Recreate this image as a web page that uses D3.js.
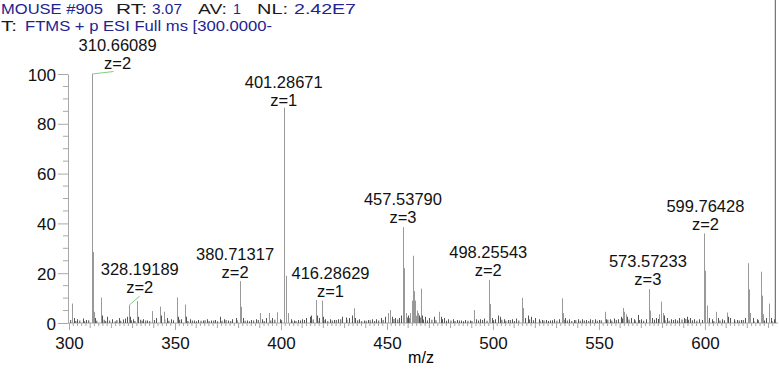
<!DOCTYPE html>
<html>
<head>
<meta charset="utf-8">
<script src="https://cdn.jsdelivr.net/npm/d3@7"></script>
<style>
  body { margin: 0; background: #fff; }
  svg { font-family: "Liberation Sans", Arial, sans-serif; }
  .peak { stroke-width: 1; }
  .noise { stroke: #555; stroke-width: 1; }
  .axis path, .axis line { stroke: #a8a8a8; }
  .axis text { fill: #111; font-size: 17px; }
</style>
</head>
<body>
<svg id="chart" width="780" height="370"></svg>
<script>
// header lines
const header1 = [["MOUSE #905", "v"], ["RT:", "k"], ["3.07", "v"], ["AV:", "k"], ["1", "v"], ["NL:", "k"], ["2.42E7", "v"]]
const header2 = [["T:", "k"], ["FTMS + p ESI Full ms [300.0000-", "v"]]

// centroid peaks: m/z and relative abundance
const peakMz = [301.3, 302.5, 304, 306.5, 308.2, 310.66, 311.16, 311.6, 312.2, 314.9, 315.4, 318, 320.5, 323.5, 326.5, 327.3,
  328.19, 328.7, 330, 332.2, 332.7, 335, 337, 339.2, 341, 342.9, 343.4, 344.6, 346, 348, 350.9, 351.4, 353, 354.7, 355.2,
  357, 359, 361, 363, 365, 367, 369, 371.2, 373, 375, 377, 378.8, 380.71, 381.2, 382.3, 384, 386, 388, 390, 391, 393,
  394.2, 396, 398.2, 399.5, 401.29, 402.29, 403.3, 404.5, 406, 408, 410, 412, 413.5, 414.3, 416.29, 416.8, 418, 419.2,
  419.7, 421, 423, 425, 427, 429, 430.5, 432, 433.5, 434.4, 435, 437, 439, 441, 443, 445, 447, 449, 450.5, 451.4, 452.5,
  454, 455.5, 456.5, 457.54, 457.87, 458.2, 459, 460, 461, 461.7, 462.1, 462.4, 462.7, 463, 463.4, 464, 464.7, 465.3,
  466, 466.5, 468, 470, 472, 474.7, 475.5, 477, 479, 481, 483, 485, 487, 489, 491.2, 492, 494, 496, 498.26, 498.76,
  499.5, 501, 502.5, 503.5, 505, 507, 509, 511, 513.5, 514, 515, 516.5, 518, 520, 521.5, 523, 525, 527, 529, 531, 532.4,
  532.9, 534, 536, 538, 540, 542, 544, 546, 548, 550, 552.8, 553.5, 555, 557, 559, 560.5, 561.5, 562, 562.6, 563.3, 565,
  566.5, 568.5, 570, 572, 573.57, 574.07, 575, 577, 578.5, 579.1, 579.5, 580, 580.5, 582, 584, 586, 588, 590, 591.5, 593,
  595, 597, 598.5, 599.76, 600.26, 600.76, 602, 603.5, 605, 606, 608, 610.2, 611, 612, 613.5, 615, 617, 619, 620.4,
  620.9, 621.4, 622.5, 624.5, 626.5, 627, 627.5, 629, 630, 631, 632.5]
const peakInt = [7.8, 2, 1.5, 1.8, 1.2, 100, 28.5, 4.5, 2, 10.2, 3, 2.5, 1.5, 2, 1.8, 2.5,
  7.2, 2.5, 1.5, 8.8, 2.5, 1.5, 1, 4.8, 2, 6.6, 3, 4.5, 2, 1.5, 10.3, 2.5, 1.5, 7.4, 2.5,
  1.5, 1, 1.2, 1, 1.5, 1, 1.2, 2.5, 1.5, 1, 1.5, 2, 16.8, 6.5, 2, 1, 1.2, 1.5, 4, 1.5, 2,
  4, 2, 4.3, 1.5, 86.5, 19, 4, 1.5, 1, 1.2, 1.5, 2, 2.5, 3, 9.2, 3, 2, 9,
  2.5, 1.5, 1.5, 1.2, 1.5, 2.5, 2.2, 2, 3, 5.9, 2, 1.5, 1, 1.2, 1.5, 1.5, 2, 2.5, 4, 5.2, 2.5,
  2, 2, 3, 38.5, 22, 8, 4, 3, 4, 9, 27, 17, 12.8, 9, 6, 5, 4, 3,
  13.8, 3, 2.5, 2, 2.5, 4.5, 2.5, 2, 1.5, 1.5, 1.2, 1, 1.2, 1, 5.2, 1.5, 1.5, 1.8, 17.3, 7.6,
  2, 1.5, 3, 2.5, 1.5, 1.2, 1.5, 1.8, 10.1, 6, 2, 3, 2.5, 2, 1.5, 1.2, 1.2, 1, 1.5, 1.5, 9.9,
  4, 2, 1.5, 1.2, 1.5, 1.5, 1.2, 1.5, 1.5, 1.2, 4.5, 1.5, 1.5, 1.8, 1.5, 2.5, 6, 4.5, 3.5, 2.5, 2,
  1.5, 3.2, 1.5, 1.5, 13.6, 5, 2, 2, 3.5, 8.6, 6, 4, 3, 2, 1.5, 1.5, 2, 2, 2.5, 2,
  1.5, 1.5, 1.2, 36, 21, 7, 2, 1.5, 4.5, 2, 1.5, 4.2, 2.5, 2, 1.5, 1.2, 1.2, 2, 24,
  13.5, 4, 2, 1.5, 20.6, 11, 3.5, 2, 7.8, 2, 1.5]

// baseline chatter (small dark peaks)
const noiseMz = [300.8, 303.2, 305.1, 307.4, 309.3, 313.1, 316.6, 317.3, 319.2, 321.8, 322.6, 324.4, 325.7, 329.4, 331.1,
  333.8, 334.5, 336.2, 338.1, 340.3, 345.2, 347.1, 349.3, 352.2, 356.1, 358.2, 360.1, 362.3, 364.2, 366.1, 368.3, 370.1,
  372.2, 374.1, 376.3, 379.3, 383.1, 385.2, 387.1, 389.3, 392.1, 395.2, 397.1, 400.3, 405.2, 407.1, 409.2, 411.1, 415.2,
  417.4, 420.3, 422.1, 424.2, 426.1, 428.2, 431.1, 436.2, 438.1, 440.2, 442.1, 444.2, 446.1, 448.2, 453.3, 455.1, 459.6,
  460.5, 463.7, 464.3, 465.7, 467.2, 469.1, 471.2, 473.1, 476.2, 478.1, 480.2, 482.1, 484.2, 486.1, 488.2, 490.1, 493.2,
  495.1, 497.2, 500.3, 504.2, 506.1, 508.2, 510.1, 512.2, 517.3, 519.1, 522.2, 524.1, 526.2, 528.1, 530.2, 533.6, 535.1,
  537.2, 539.1, 541.2, 543.1, 545.2, 547.1, 549.2, 551.1, 554.2, 556.1, 558.2, 561.1, 564.2, 567.1, 569.2, 571.1, 576.2,
  578.1, 581.2, 583.1, 585.2, 587.1, 589.2, 591, 592.3, 594.1, 596.2, 601.3, 604.2, 607.1, 609.2, 614.1, 616.2, 618.1,
  623.1, 625.2, 628.1, 631.6, 633.2]
const noiseInt = [1.2, 0.8, 1, 0.7, 1.1, 0.9, 1.3, 0.8, 1, 0.7, 1.2, 0.9, 1.4, 1.1, 0.8,
  1.3, 0.9, 1, 0.8, 1.2, 1.4, 0.9, 1.1, 1.3, 0.8, 1, 0.7, 0.9, 1.1, 0.8, 1, 0.7,
  0.9, 1.2, 0.8, 1.1, 0.9, 0.7, 1, 1.2, 0.8, 1, 1.3, 1.1, 0.9, 0.8, 1, 1.2, 1.4,
  0.9, 1.1, 0.8, 1, 1.2, 1.5, 1.3, 1.1, 0.8, 0.9, 1.1, 0.8, 1, 1.2, 1.6, 1.4, 2.2,
  2, 3, 2.5, 2.2, 1.4, 1, 1.3, 1.1, 1.5, 0.9, 1, 0.8, 1, 0.7, 0.9, 0.8, 1,
  1.2, 0.9, 1.1, 1.3, 0.9, 1.2, 0.8, 1, 1.4, 1.1, 0.9, 1, 0.8, 1.1, 0.9, 1.3, 1,
  0.8, 1.1, 0.9, 1, 0.8, 1.2, 0.9, 1.1, 1.3, 0.9, 1.2, 1.8, 1.4, 1, 1.2, 0.9, 1.3,
  1.6, 1.1, 0.9, 1.2, 1, 1.4, 1.6, 1.3, 1.1, 0.9, 1.2, 0.8, 1, 1.1, 0.9, 1,
  1.2, 0.8, 1.1, 1, 0.8]

// annotated peaks
const labelMz = [310.66, 328.19, 380.71, 401.29, 416.29, 457.54, 498.26, 573.57, 599.76]
const labelText = ["310.66089", "328.19189", "380.71317", "401.28671", "416.28629", "457.53790", "498.25543", "573.57233", "599.76428"]
const labelZ = ["z=2", "z=2", "z=2", "z=1", "z=1", "z=3", "z=2", "z=3", "z=2"]

const xTicks = [300, 350, 400, 450, 500, 550, 600]
const yTicks = [0, 20, 40, 60, 80, 100]

// layout of the annotations relative to the peak top (px)
const labelLayout = [
  { dx: 26, dy: -5, lead: [22, -2.5] },
  { dx: 11, dy: -12, lead: [11, -9] },
  { dx: -5, dy: -3 },
  { dx: 0, dy: -2 },
  { dx: 15, dy: -3 },
  { dx: 0, dy: -4.5 },
  { dx: -1, dy: -4 },
  { dx: -1, dy: -4 },
  { dx: 1, dy: -3 }
]

const svg = d3.select("#chart")
const blue = "#23238f"

const x = d3.scaleLinear().domain([300, 634]).range([69, 777])
const y = d3.scaleLinear().domain([0, 100]).range([323, 74])

// header
function headerLine (parts, xs, lens, baseline) {
  parts.forEach((p, i) => {
    svg.append("text")
      .attr("x", xs[i]).attr("y", baseline)
      .attr("textLength", lens[i]).attr("lengthAdjust", "spacingAndGlyphs")
      .style("font-size", "15.5px")
      .style("fill", p[1] == "v" ? blue : "#1a1a1a")
      .text(p[0])
  })
}
headerLine(header1, [1, 116, 152, 198, 233, 257, 294], [102, 31, 30, 29, 8, 31, 62], 14)
headerLine(header2, [1, 25], [16, 247], 31)

// axes
const yAxis = svg.append("g").attr("class", "axis")
  .attr("transform", "translate(68,0)")
  .call(d3.axisLeft(y).tickValues(yTicks).tickSize(10).tickSizeOuter(0).tickPadding(2))
yAxis.selectAll(".tick text").attr("dy", "0.36em")
yAxis.selectAll(".minor")
  .data(d3.range(0, 101, 5).filter(v => v % 20 != 0))
  .enter().append("line")
  .attr("x1", -5).attr("x2", 0)
  .attr("y1", d => y(d)).attr("y2", d => y(d))
  .attr("stroke", "#a8a8a8")

const xAxis = svg.append("g").attr("class", "axis")
  .attr("transform", "translate(0,323)")
  .call(d3.axisBottom(x).tickValues(xTicks).tickSize(7).tickSizeOuter(0).tickPadding(7))
xAxis.select(".domain").attr("d", "M68,0H778")
xAxis.selectAll(".minor")
  .data(d3.range(302, 634, 2).filter(v => v % 50 != 0))
  .enter().append("line")
  .attr("x1", d => x(d)).attr("x2", d => x(d))
  .attr("y1", 0).attr("y2", d => d % 10 == 0 ? 5 : 3)
  .attr("stroke", "#a8a8a8")

svg.append("text")
  .attr("x", 421).attr("y", 363)
  .attr("text-anchor", "middle")
  .style("font-size", "16px")
  .text("m/z")

// spectrum sticks
const peaks = peakMz.map((m, i) => ({ m, v: peakInt[i] }))
const noise = noiseMz.map((m, i) => ({ m, v: noiseInt[i] }))

svg.append("g").selectAll("line")
  .data(noise).enter().append("line")
  .attr("class", "noise")
  .attr("x1", d => x(d.m)).attr("x2", d => x(d.m))
  .attr("y1", y(0)).attr("y2", d => y(d.v))

svg.append("g").selectAll("line")
  .data(peaks).enter().append("line")
  .attr("class", "peak")
  .attr("x1", d => Math.round(x(d.m)) + 0.5).attr("x2", d => Math.round(x(d.m)) + 0.5)
  .attr("y1", y(0)).attr("y2", d => y(d.v))
  .attr("stroke", d => d.v < 3.5 ? "#555" : "#999")

// annotations
const notes = svg.append("g")
labelMz.forEach((m, i) => {
  const v = peakInt[peakMz.indexOf(m)]
  const px = x(m), py = y(v)
  const L = labelLayout[i]
  const cx = px + L.dx
  if (L.lead) {
    notes.append("line")
      .attr("x1", px + 0.5).attr("y1", py)
      .attr("x2", px + L.lead[0]).attr("y2", py + L.lead[1])
      .attr("stroke", "#7fcf7f").attr("stroke-width", 1)
  }
  notes.append("text")
    .attr("x", cx).attr("y", py + L.dy - 18)
    .attr("text-anchor", "middle")
    .style("font-size", "16.5px").style("fill", "#111")
    .text(labelText[i])
  notes.append("text")
    .attr("x", cx).attr("y", py + L.dy)
    .attr("text-anchor", "middle")
    .style("font-size", "16.5px").style("fill", "#111")
    .text(labelZ[i])
})
</script>
</body>
</html>
